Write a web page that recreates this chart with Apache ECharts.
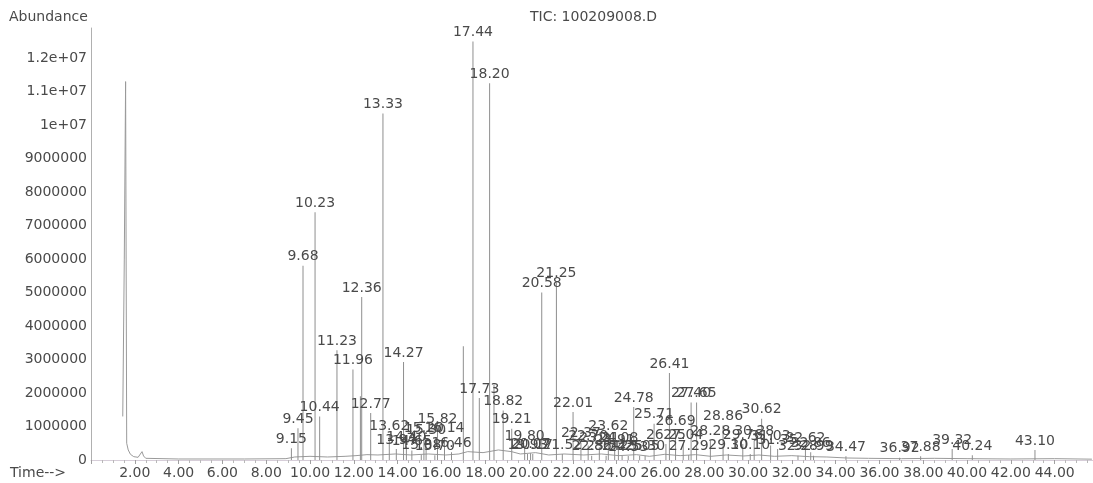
<!DOCTYPE html>
<html>
<head>
<meta charset="utf-8">
<script src="https://cdn.jsdelivr.net/npm/echarts@6/dist/echarts.min.js"></script>
<style>
html,body{margin:0;padding:0;background:#fff;}
#chart{width:1093px;height:483px;}
</style>
</head>
<body>
<div id="chart"></div>
<script>
// ---- Data ----
const chartTitle = "TIC: 100209008.D";
const yAxisTitle = "Abundance";
const xAxisTitle = "Time-->";

// Labelled / visible peaks: retention time (min), abundance, printed label
const peakTimes = [
  9.15, 9.45, 9.68, 10.23, 10.44, 11.23, 11.96, 12.30, 12.36, 12.77,
  13.33, 13.62, 13.94, 14.27, 14.40, 14.65, 15.08, 15.20, 15.30, 15.70,
  15.82, 16.14, 16.46, 17.00, 17.44, 17.73, 18.20, 18.40, 18.82, 19.21,
  19.80, 19.93, 20.07, 20.17, 20.58, 21.25, 21.52, 22.01, 22.37, 22.70,
  22.86, 23.21, 23.52, 23.62, 23.91, 24.08, 24.25, 24.53, 24.78, 25.05,
  25.30, 25.71, 26.25, 26.41, 26.69, 27.04, 27.29, 27.40, 27.65, 28.28,
  28.86, 29.10, 29.76, 30.10, 30.28, 30.62, 31.03, 31.35, 32.28, 32.62,
  32.86, 32.99, 34.47, 36.92, 37.88, 39.32, 40.24, 43.10
];
const peakHeights = [
  350000, 950000, 5800000, 7400000, 1300000, 3280000, 2700000, 1900000, 4870000, 1400000,
  10350000, 750000, 330000, 2930000, 400000, 280000, 160000, 680000, 620000, 140000,
  950000, 680000, 230000, 3400000, 12500000, 1850000, 11250000, 2250000, 1480000, 930000,
  430000, 180000, 200000, 180000, 5000000, 5300000, 180000, 1430000, 520000, 430000,
  130000, 380000, 130000, 730000, 330000, 380000, 130000, 120000, 1580000, 130000,
  130000, 1080000, 480000, 2600000, 880000, 480000, 150000, 1720000, 1720000, 580000,
  1030000, 180000, 480000, 180000, 580000, 1230000, 430000, 330000, 130000, 380000,
  230000, 130000, 110000, 70000, 110000, 330000, 140000, 300000
];
const peakLabels = [
  "9.15", "9.45", "9.68", "10.23", "10.44", "11.23", "11.96", "", "12.36", "12.77",
  "13.33", "13.62", "13.94", "14.27", "14.40", "14.65", "15.08", "15.20", "15.30", "15.70",
  "15.82", "16.14", "16.46", "", "17.44", "17.73", "18.20", "", "18.82", "19.21",
  "19.80", "19.93", "20.07", "20.17", "20.58", "21.25", "21.52", "22.01", "22.37", "22.70",
  "22.86", "23.21", "23.52", "23.62", "23.91", "24.08", "24.25", "24.53", "24.78", "25.05",
  "25.30", "25.71", "26.25", "26.41", "26.69", "27.04", "27.29", "27.40", "27.65", "28.28",
  "28.86", "29.10", "29.76", "30.10", "30.28", "30.62", "31.03", "31.35", "32.28", "32.62",
  "32.86", "32.99", "34.47", "36.92", "37.88", "39.32", "40.24", "43.10"
];

// Continuous trace: solvent front and baseline
const traceTimes = [
  1.45, 1.52, 1.58, 1.63, 1.70, 1.80, 1.95, 2.15, 2.33, 2.40, 2.50, 4.0, 7.0,
  8.9, 9.3, 10.0, 10.8, 11.6, 12.1, 12.6, 13.1, 13.9, 14.6, 15.4, 16.2, 16.8,
  17.2, 17.9, 18.6, 19.2, 19.6, 20.3, 20.9, 21.6, 22.5, 23.3, 24.1, 24.9, 25.5,
  26.2, 26.9, 27.6, 28.3, 29.0, 29.8, 30.5, 31.2, 32.0, 32.8, 33.6, 34.5, 35.5,
  37.0, 38.5, 40.0, 42.0, 44.0, 45.7
];
const traceValues = [
  1300000, 6000000, 11300000, 500000, 300000, 170000, 100000, 80000, 250000, 120000, 50000, 30000, 30000,
  40000, 90000, 110000, 90000, 110000, 130000, 160000, 150000, 180000, 150000, 180000, 150000, 180000,
  250000, 220000, 300000, 250000, 180000, 220000, 150000, 180000, 150000, 180000, 130000, 160000, 110000,
  170000, 130000, 160000, 110000, 150000, 120000, 150000, 110000, 130000, 100000, 90000, 60000, 50000,
  40000, 50000, 40000, 30000, 40000, 25000
];

// ---- Chart ----
const FONT = "DejaVu Sans";
const TXT = "#4a4a4a";
const chart = echarts.init(document.getElementById('chart'), null, {renderer: 'canvas'});

function yFmt(v) {
  if (v >= 10000000) {
    const m = v / 10000000;
    return (Math.round(m * 10) / 10) + "e+07";
  }
  return String(v);
}

const option = {
  animation: false,
  backgroundColor: '#ffffff',
  grid: {left: 91, right: 0, top: 28, bottom: 23, containLabel: false},
  xAxis: {
    type: 'value',
    min: 0,
    max: 45.75,
    interval: 2,
    axisLine: {show: true, lineStyle: {color: '#d6cdd8', width: 1}},
    axisTick: {show: true, length: 4, lineStyle: {color: '#a0a0a0'}},
    minorTick: {show: true, splitNumber: 4, length: 3, lineStyle: {color: '#b8b8b8'}},
    splitLine: {show: false},
    axisLabel: {
      showMinLabel: false, showMaxLabel: false,
      fontFamily: FONT, fontSize: 14, color: TXT, margin: 6,
      formatter: v => v.toFixed(2)
    }
  },
  yAxis: {
    type: 'value',
    min: 0,
    max: 12900000,
    interval: 1000000,
    axisLine: {show: true, lineStyle: {color: '#b0b0b0', width: 1}},
    axisTick: {show: false},
    splitLine: {show: false},
    axisLabel: {
      showMaxLabel: false,
      fontFamily: FONT, fontSize: 14, color: TXT, margin: 4,
      formatter: yFmt
    }
  },
  graphic: [
    {type: 'text', left: 9, top: 10, style: {text: yAxisTitle, font: '14px "DejaVu Sans"', fill: TXT}},
    {type: 'text', left: 530, top: 10, style: {text: chartTitle, font: '14px "DejaVu Sans"', fill: TXT}},
    {type: 'text', left: 10, top: 466, style: {text: xAxisTitle, font: '14px "DejaVu Sans"', fill: TXT}}
  ],
  series: [
    {
      type: 'line',
      name: 'trace',
      data: traceTimes.map((t, i) => [t, traceValues[i]]),
      showSymbol: false,
      symbol: 'none',
      lineStyle: {color: '#9a9a9a', width: 1},
      z: 2
    },
    {
      type: 'bar',
      name: 'peaks',
      data: peakTimes.map((t, i) => [t, peakHeights[i]]),
      barWidth: 1,
      itemStyle: {color: '#8e8e8e'},
      label: {
        show: true,
        position: 'top',
        distance: 2,
        fontFamily: FONT,
        fontSize: 14,
        color: TXT,
        formatter: p => peakLabels[p.dataIndex]
      },
      z: 3
    }
  ]
};
chart.setOption(option);
</script>
</body>
</html>
